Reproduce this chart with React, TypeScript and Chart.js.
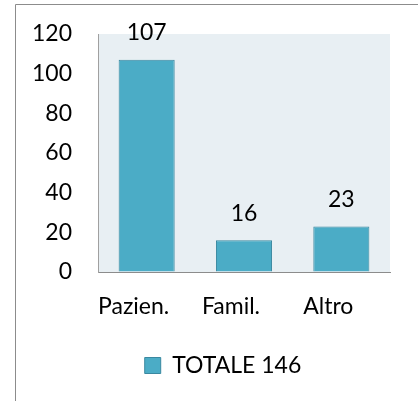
import React, { useEffect, useRef } from "react";
import { Chart, registerables } from "chart.js";

Chart.register(...registerables);

const categories = ["Pazien.", "Famil.", "Altro"];
const values = [107, 16, 23];
const seriesLabel = "TOTALE 146";
const yTicks = [0, 20, 40, 60, 80, 100, 120];

const FONT = "Lato, 'DejaVu Sans', sans-serif";
const FS = 23;

const framePlugin = {
  id: "frame",
  afterLayout(chart: any) {
    const l = chart.legend;
    if (l) {
      l.left += 28;
      l.right += 28;
    }
  },
  beforeDraw(chart: any) {
    const { ctx, chartArea } = chart;
    ctx.save();
    ctx.fillStyle = "#ffffff";
    ctx.fillRect(0, 0, chart.width, chart.height);
    ctx.fillStyle = "#E8EFF3";
    ctx.fillRect(chartArea.left, chartArea.top, chartArea.right - chartArea.left, chartArea.bottom - chartArea.top);
    ctx.strokeStyle = "#8c8c8c";
    ctx.lineWidth = 1;
    ctx.beginPath();
    ctx.moveTo(15.5, chart.height);
    ctx.lineTo(15.5, 4.5);
    ctx.lineTo(chart.width, 4.5);
    ctx.stroke();
    ctx.restore();
  },
};

const labelPlugin = {
  id: "barLabels",
  afterDatasetsDraw(chart: any) {
    const { ctx } = chart;
    const meta = chart.getDatasetMeta(0);
    ctx.save();
    ctx.font = `${FS}px ${FONT}`;
    ctx.fillStyle = "#000";
    ctx.textAlign = "center";
    ctx.textBaseline = "middle";
    meta.data.forEach((bar: any, i: number) => {
      ctx.fillText(String(chart.data.datasets[0].data[i]), bar.x, bar.y - 27);
    });
    ctx.restore();
  },
};

export default function App() {
  const ref = useRef<HTMLCanvasElement>(null);
  useEffect(() => {
    const chart = new Chart(ref.current!, {
      type: "bar",
      data: {
        labels: categories,
        datasets: [
          {
            label: seriesLabel,
            data: values,
            backgroundColor: "#4BACC6",
            borderColor: "#3A88A0",
            borderWidth: 1,
            categoryPercentage: 1,
            barPercentage: 0.576,
          },
        ],
      },
      options: {
        animation: false,
        responsive: false,
        maintainAspectRatio: false,
        layout: { padding: { left: 0, right: 28, top: 34, bottom: 14 } },
        plugins: {
          tooltip: { enabled: false },
          legend: {
            position: "bottom",
            labels: {
              boxWidth: 16,
              boxHeight: 16,
              padding: 10,
              color: "#000",
              font: { family: FONT, size: FS },
            },
          },
        },
        scales: {
          x: {
            grid: { color: "transparent", drawTicks: false },
            border: { display: true, color: "#8c8c8c", width: 1 },
            ticks: { color: "#000", font: { family: FONT, size: FS }, padding: 21, labelOffset: -13, maxRotation: 0 },
            afterFit(scale: any) {
              scale.height = 72;
              scale.paddingLeft = 0;
              scale.paddingRight = 0;
            },
          },
          y: {
            min: 0,
            max: 120,
            grid: { color: "transparent", drawTicks: false },
            border: { display: true, color: "#a0a0a0", width: 1 },
            afterBuildTicks(scale: any) {
              scale.ticks = yTicks.map((v) => ({ value: v }));
            },
            ticks: { color: "#000", font: { family: FONT, size: FS }, padding: 26 },
            afterFit(scale: any) {
              scale.width = 98;
              scale.paddingTop = 0;
              scale.paddingBottom = 0;
            },
          },
        },
      },
      plugins: [framePlugin, labelPlugin],
    });
    return () => chart.destroy();
  }, []);
  return (
    <div style={{ position: "fixed", left: 0, top: 0, width: 418, height: 401, overflow: "hidden" }}>
      <canvas ref={ref} width={418} height={401} style={{ display: "block" }} />
    </div>
  );
}
